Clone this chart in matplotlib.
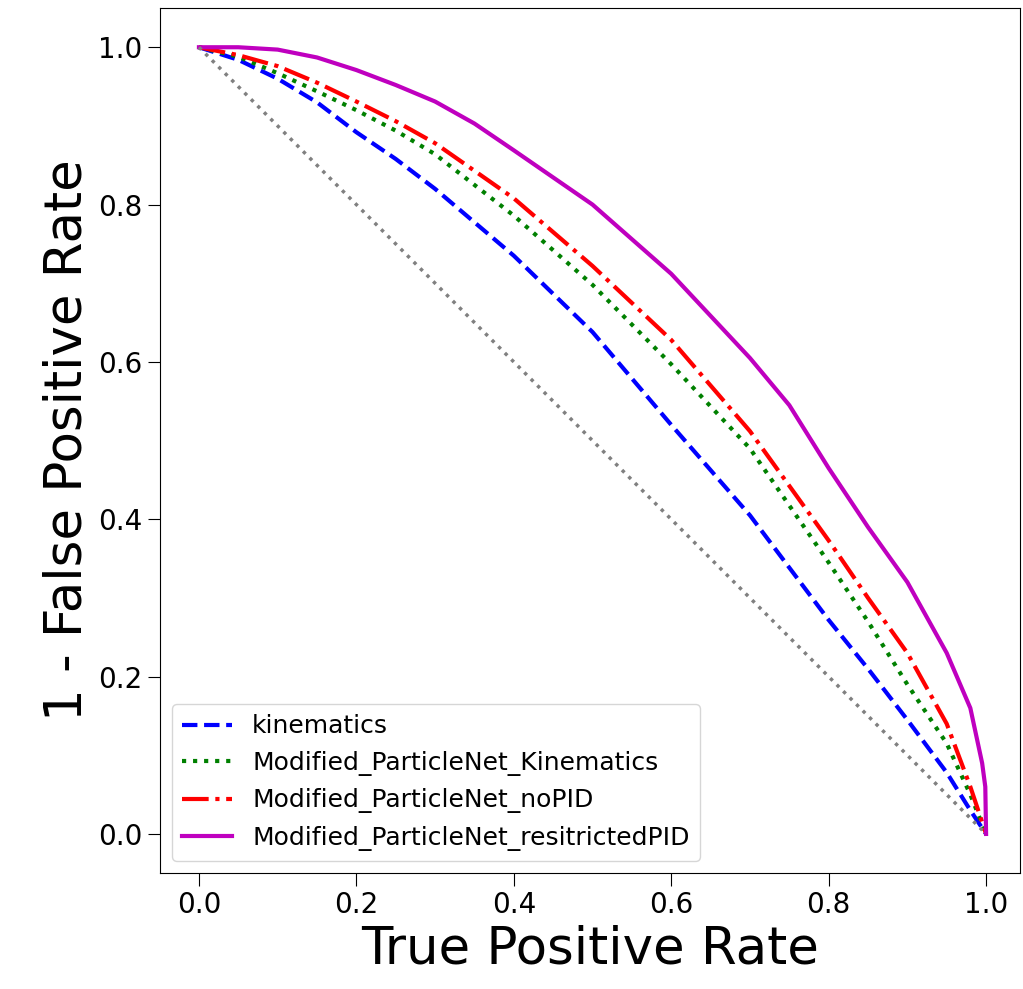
import numpy as np
import matplotlib
matplotlib.use("Agg")
from matplotlib import pyplot as plt

# ROC points (TPR, 1 - FPR)
tpr_kin = [0.0, 0.05, 0.1, 0.15, 0.2, 0.25, 0.3, 0.4, 0.5, 0.6, 0.7, 0.8, 0.85, 0.9, 0.95, 0.98, 1.0]
tnr_kin = [1.0, 0.984, 0.96, 0.93, 0.892, 0.858, 0.82, 0.735, 0.638, 0.52, 0.405, 0.272, 0.21, 0.145, 0.078, 0.03, 0.0]

tpr_pnk = [0.0, 0.05, 0.1, 0.15, 0.2, 0.25, 0.3, 0.4, 0.5, 0.6, 0.7, 0.8, 0.85, 0.9, 0.95, 0.98, 1.0]
tnr_pnk = [1.0, 0.988, 0.967, 0.944, 0.92, 0.894, 0.864, 0.786, 0.698, 0.597, 0.49, 0.345, 0.27, 0.19, 0.115, 0.05, 0.0]

tpr_nopid = [0.0, 0.05, 0.1, 0.15, 0.2, 0.25, 0.3, 0.4, 0.5, 0.6, 0.7, 0.8, 0.85, 0.9, 0.95, 0.98, 1.0]
tnr_nopid = [1.0, 0.99, 0.976, 0.955, 0.931, 0.906, 0.878, 0.808, 0.722, 0.628, 0.512, 0.373, 0.3, 0.23, 0.14, 0.06, 0.0]

tpr_rpid = [0.0, 0.05, 0.1, 0.15, 0.2, 0.25, 0.3, 0.35, 0.4, 0.5, 0.6, 0.7, 0.75, 0.8, 0.85, 0.9, 0.95, 0.98, 0.995, 0.999, 1.0]
tnr_rpid = [1.0, 1.0, 0.997, 0.987, 0.971, 0.952, 0.931, 0.903, 0.869, 0.8, 0.712, 0.605, 0.545, 0.465, 0.39, 0.32, 0.23, 0.16, 0.09, 0.06, 0.0]

fig = plt.figure(figsize=(10.23, 9.89), dpi=100)
ax = fig.add_axes([0.156, 0.117, 0.841, 0.875])

ax.plot(tpr_kin, tnr_kin, 'b--', lw=3, label='kinematics')
ax.plot(tpr_pnk, tnr_pnk, 'g:', lw=3, label='Modified_ParticleNet_Kinematics')
ax.plot(tpr_nopid, tnr_nopid, 'r-.', lw=3, label='Modified_ParticleNet_noPID')
ax.plot(tpr_rpid, tnr_rpid, 'm-', lw=3, label='Modified_ParticleNet_resitrictedPID')
ax.plot([0, 1], [1, 0], ':', color='gray', lw=2.5)

ax.set_xlim(-0.05, 1.043)
ax.set_ylim(-0.05, 1.05)
ax.set_xlabel('True Positive Rate', fontsize=37)
ax.set_ylabel('1 - False Positive Rate', fontsize=37)
ax.tick_params(labelsize=20, length=9)
ax.set_xticks(np.arange(0, 1.01, 0.2))
ax.set_yticks(np.arange(0, 1.01, 0.2))
ax.legend(loc='lower left', fontsize=18)

fig.savefig('out.png', dpi=100)
